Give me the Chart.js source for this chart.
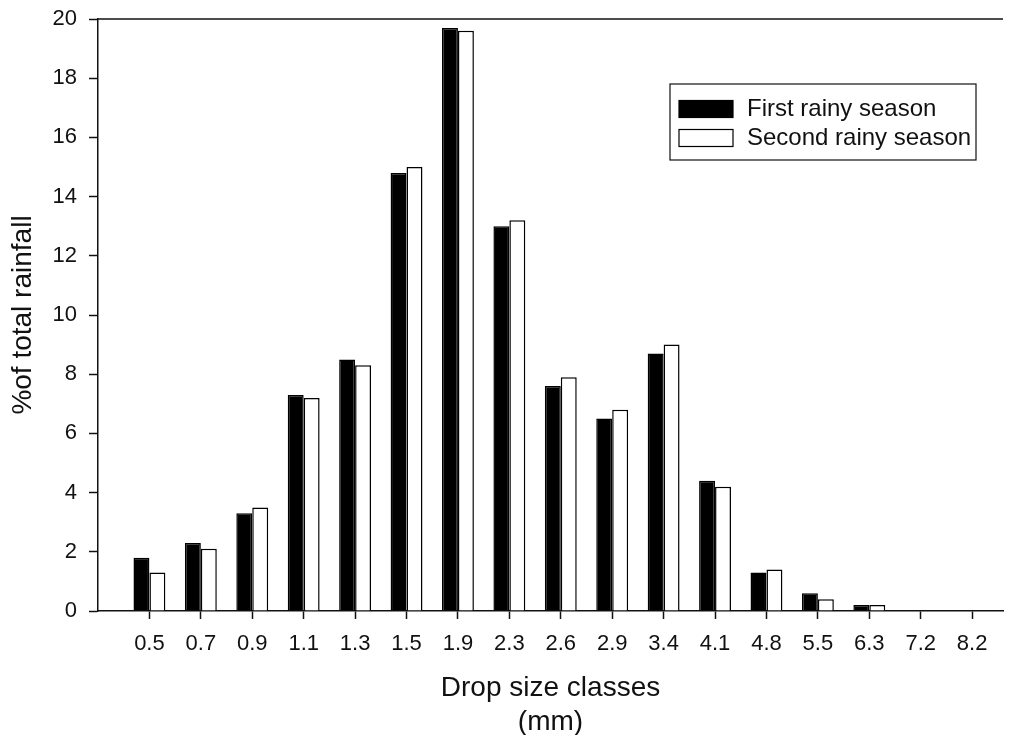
<!DOCTYPE html>
<html>
<head>
<meta charset="utf-8">
<title>Drop size distribution</title>
<script src="https://cdn.jsdelivr.net/npm/chart.js@4/dist/chart.umd.min.js"></script>
<style>
  html, body { margin: 0; padding: 0; background: #fff; }
  #wrap { width: 1013px; height: 735px; }
</style>
</head>
<body>
<div id="wrap"><canvas id="dropChart" width="1013" height="735"></canvas></div>
<script>
// drop size classes (mm) and share of total rainfall (%)
const sizeClasses = ["0.5", "0.7", "0.9", "1.1", "1.3", "1.5", "1.9", "2.3", "2.6",
                     "2.9", "3.4", "4.1", "4.8", "5.5", "6.3", "7.2", "8.2"];
const firstSeason  = [1.8, 2.3, 3.3, 7.3, 8.5, 14.8, 19.7, 13.0, 7.6, 6.5, 8.7, 4.4, 1.3, 0.6, 0.2, 0, 0];
const secondSeason = [1.3, 2.1, 3.5, 7.2, 8.3, 15.0, 19.6, 13.2, 7.9, 6.8, 9.0, 4.2, 1.4, 0.4, 0.2, 0, 0];
const yTicks = [0, 2, 4, 6, 8, 10, 12, 14, 16, 18, 20];

const FONT = "'Liberation Sans', Arial, sans-serif";
const INK = "#111";

// classes sit at x = 1..17 on a linear axis so the first one is pushed in from the y axis
const toPoints = vals => vals.map((v, i) => ({ x: i + 1, y: v }));

// frame line along the top + boxed legend inside the plot
const frameAndLegend = {
    id: "frameAndLegend",
    afterDraw(chart) {
        const { ctx, chartArea } = chart;
        ctx.save();
        ctx.strokeStyle = INK;
        ctx.lineWidth = 1.5;
        ctx.beginPath();
        ctx.moveTo(chartArea.left, chartArea.top);
        ctx.lineTo(chartArea.right, chartArea.top);
        ctx.stroke();

        // legend box
        const bx = 670, by = 84, bw = 306, bh = 76;
        ctx.lineWidth = 1.2;
        ctx.strokeRect(bx, by, bw, bh);
        ctx.font = "24px " + FONT;
        ctx.textBaseline = "middle";
        ctx.textAlign = "left";
        chart.data.datasets.forEach((ds, i) => {
            const rowY = by + 25 + i * 29;
            ctx.fillStyle = ds.backgroundColor;
            ctx.fillRect(bx + 9, rowY - 8.5, 54, 17);
            ctx.strokeStyle = "#000";
            ctx.lineWidth = 1.2;
            ctx.strokeRect(bx + 9, rowY - 8.5, 54, 17);
            ctx.fillStyle = INK;
            ctx.fillText(ds.label, bx + 77, rowY);
        });
        ctx.restore();
    }
};

const ctx = document.getElementById("dropChart").getContext("2d");

new Chart(ctx, {
    type: "bar",
    data: {
        datasets: [
            {
                label: "First rainy season",
                data: toPoints(firstSeason),
                backgroundColor: "#000",
                borderColor: "#000",
                borderWidth: 1.5
            },
            {
                label: "Second rainy season",
                data: toPoints(secondSeason),
                backgroundColor: "#fff",
                borderColor: "#000",
                borderWidth: 1.5
            }
        ]
    },
    options: {
        responsive: false,
        animation: false,
        categoryPercentage: 0.62,
        barPercentage: 1.0,
        layout: { padding: { top: 19, right: 10, left: 0, bottom: 0 } },
        plugins: {
            legend: { display: false },
            tooltip: { enabled: false }
        },
        scales: {
            x: {
                type: "linear",
                offset: false,
                min: 0,
                max: 17.6,
                afterFit(scale) {
                    scale.height = 124;
                    scale.paddingLeft = 0;
                    scale.paddingRight = 0;
                },
                afterBuildTicks(scale) {
                    scale.ticks = sizeClasses.map((_, i) => ({ value: i + 1 }));
                },
                ticks: {
                    autoSkip: false,
                    maxRotation: 0,
                    padding: 12,
                    color: INK,
                    font: { family: FONT, size: 22 },
                    callback: v => sizeClasses[v - 1] ?? ""
                },
                grid: {
                    offset: false,
                    drawOnChartArea: false,
                    tickLength: 8,
                    tickColor: INK,
                    tickWidth: 1.5
                },
                border: { color: INK, width: 1.5 },
                title: {
                    display: true,
                    text: ["Drop size classes", "(mm)"],
                    color: INK,
                    font: { family: FONT, size: 28, lineHeight: 1.2 },
                    padding: { top: 0, bottom: -4 }
                }
            },
            y: {
                min: 0,
                max: 20,
                afterFit(scale) {
                    scale.width = 98;
                    scale.paddingTop = 0;
                    scale.paddingBottom = 0;
                },
                afterBuildTicks(scale) {
                    scale.ticks = yTicks.map(v => ({ value: v }));
                },
                ticks: {
                    padding: 12,
                    color: INK,
                    font: { family: FONT, size: 22 }
                },
                grid: {
                    drawOnChartArea: false,
                    tickLength: 9,
                    tickColor: INK,
                    tickWidth: 1.5
                },
                border: { color: INK, width: 1.5 },
                title: {
                    display: true,
                    text: "%of total rainfall",
                    color: INK,
                    font: { family: FONT, size: 28, lineHeight: 1.2 },
                    padding: { top: 6, bottom: 0 }
                }
            }
        }
    },
    plugins: [frameAndLegend]
});
</script>
</body>
</html>
